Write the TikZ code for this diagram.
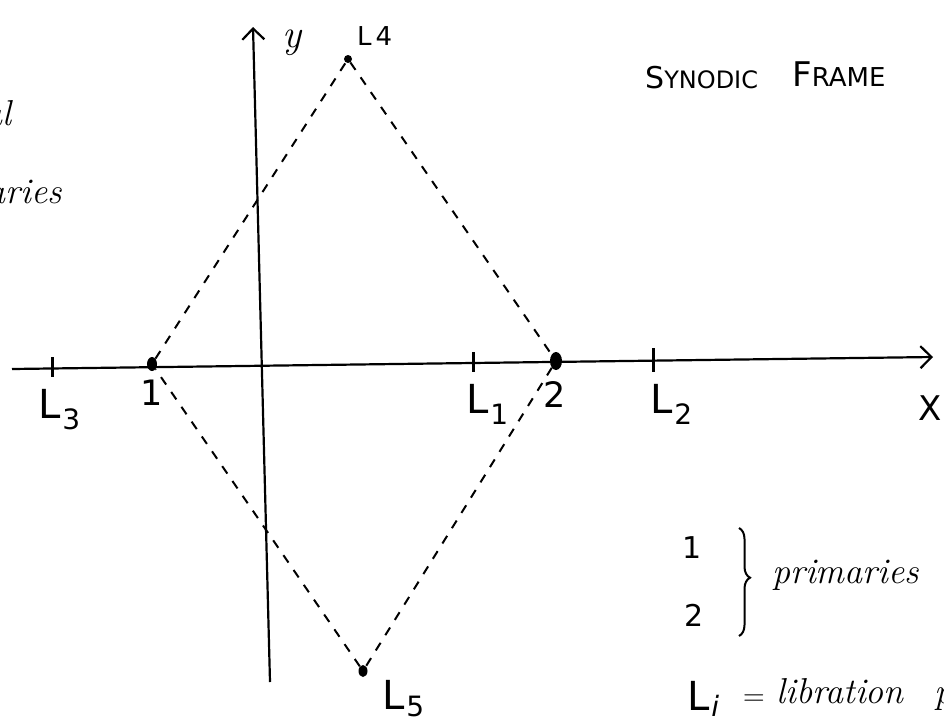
\documentclass[tikz,border=0pt]{standalone}
\usepackage{fontspec}
\newfontfamily\hand{DejaVu Sans}
\usetikzlibrary{arrows.meta,shapes.geometric,decorations.pathreplacing}
\newcommand\Lsb[2][-11pt]{L\kern2pt\raisebox{#1}{\fontsize{28}{28}\selectfont #2}}
\tikzset{
  lab/.style={inner sep=0pt, font=\hand\fontsize{40}{40}\selectfont},
  smalllab/.style={inner sep=0pt, font=\hand\fontsize{30}{30}\selectfont},
  cur/.style={inner sep=0pt, font=\itshape\fontsize{36}{36}\selectfont},
  dashline/.style={line width=2pt, dash pattern=on 9pt off 9pt},
  axisline/.style={line width=2.2pt, -{Straight Barb[length=11pt,width=22pt,line width=2.2pt]}},
  tickmark/.style={line width=3pt},
  dot/.style={fill=black, ellipse, inner sep=0pt}
}
\begin{document}
\begin{tikzpicture}[x=1pt,y=-1pt]
\useasboundingbox (0,0) rectangle (944,723);
\fill[white] (0,0) rectangle (944,723);

% axes
\coordinate (xs) at (12,369);
\coordinate (xe) at (933,357);
\coordinate (ys) at (270,682);
\coordinate (ye) at (253,27);
\draw[axisline] (xs) -- (xe);
\draw[axisline] (ys) -- (ye);

% ticks
\coordinate (tL3) at (52,367);
\coordinate (tL1) at (473,362);
\coordinate (tL2) at (653,360);
\draw[tickmark] ([yshift=10pt]tL3) -- ([yshift=-10pt]tL3);
\draw[tickmark] ([yshift=10pt]tL1) -- ([yshift=-10pt]tL1);
\draw[tickmark] ([yshift=12pt]tL2) -- ([yshift=-12pt]tL2);

% points
\node[dot, minimum width=10pt, minimum height=14pt] (p1) at (152,364) {};
\node[dot, minimum width=12pt, minimum height=18pt] (p2) at (556,361) {};
\node[dot, minimum width=8pt, minimum height=8pt] (pL4) at (348,59) {};
\node[dot, minimum width=9pt, minimum height=12pt] (pL5) at (363,671) {};

% dashed diamond
\draw[dashline] (p1) -- (pL4);
\draw[dashline] (pL4) -- (p2);
\draw[dashline] (p2) -- (pL5);
\draw[dashline] (pL5) -- (p1);

% axis labels
\node[lab, anchor=base west] (lL3) at (38,418) {\Lsb{3}};
\node[lab, anchor=base west] (lL1) at (466,413) {\Lsb{1}};
\node[lab, anchor=base west] (lL2) at (650,413) {\Lsb{2}};
\node[lab, anchor=base west] (lL5) at (382,709) {\Lsb[-7pt]{5}};
\node[inner sep=0pt, font=\hand\fontsize{26}{26}\selectfont, anchor=base west] (lL4) at (357,45) {L\kern4pt 4};
\node[inner sep=0pt, font=\hand\fontsize{35}{35}\selectfont, anchor=base] (l1) at (152,405) {1};
\node[inner sep=0pt, font=\hand\fontsize{35}{35}\selectfont, anchor=base] (l2) at (555,407) {2};
\node[inner sep=0pt, font=\hand\fontsize{34}{34}\selectfont, anchor=base west] (lx) at (918,420) {X};
\node[inner sep=0pt, font=\itshape\fontsize{40}{40}\selectfont, anchor=base] (ly) at (292,47) {y};

% title
\node[inner sep=0pt, font=\hand\fontsize{24}{24}\selectfont, anchor=base west] (t1) at (645,88)
  {{\fontsize{30}{30}\selectfont S}YNODIC};
\node[inner sep=0pt, font=\hand\fontsize{26}{26}\selectfont, anchor=base west] (t2) at (792,86)
  {{\fontsize{34}{34}\selectfont F}RAME};

% left partial text
\node[cur, anchor=base east] (left1) at (12,125) {al};
\node[cur, anchor=base east] (left2) at (62,203) {primaries};

% legend
\node[smalllab, anchor=base] (g1) at (692,558) {1};
\node[smalllab, anchor=base] (g2) at (694,626) {2};
\draw[line width=2pt, decorate, decoration={brace, amplitude=11pt, aspect=0.46}] (739,528) -- (739,636);
\node[cur, anchor=base west] (gp) at (772,583) {primaries};
\node[lab, anchor=base west] (gL) at (687,710) {L\kern2pt\raisebox{-6pt}{\itshape\fontsize{28}{28}\selectfont i}};
\node[inner sep=0pt, font=\fontsize{30}{30}\selectfont] (geq) at (754,700) {=};
\node[cur, anchor=base west] (glib) at (776,703) {libration};
\node[cur, anchor=base west] (gpts) at (934,703) {points};
\end{tikzpicture}
\end{document}
